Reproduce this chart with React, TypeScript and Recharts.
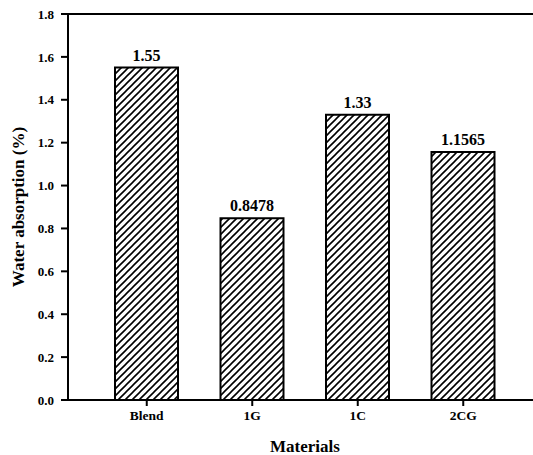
import React from "react";
import { BarChart, Bar, XAxis, YAxis, LabelList, ReferenceLine } from "recharts";

const categories = ["Blend", "1G", "1C", "2CG"];
const waterAbsorption = [1.55, 0.8478, 1.33, 1.1565];
const valueLabels = ["1.55", "0.8478", "1.33", "1.1565"];
const yTicks = [0, 0.2, 0.4, 0.6, 0.8, 1.0, 1.2, 1.4, 1.6, 1.8];

const data = categories.map((c, i) => ({ name: c, value: waterAbsorption[i], label: valueLabels[i] }));

const FONT = "'Liberation Serif', 'Times New Roman', serif";

export default function App() {
  return (
    <div style={{ position: "fixed", left: 0, top: 0, width: 533, height: 455, overflow: "hidden", background: "#fff" }}>
      <BarChart
        width={546}
        height={455}
        data={data}
        margin={{ top: 14, right: 4, bottom: 0, left: 0 }}
        style={{ fontFamily: FONT }}
      >
        <defs>
          <pattern id="hatch" patternUnits="userSpaceOnUse" width="7" height="7">
            <rect width="7" height="7" fill="#fff" />
            <path d="M-1,1 l2,-2 M0,7 l7,-7 M6,8 l2,-2" stroke="#000" strokeWidth="1.6" />
          </pattern>
        </defs>
        <XAxis
          dataKey="name"
          padding={{ left: 26, right: 26 }}
          height={55}
          tickSize={6}
          tickMargin={4}
          axisLine={{ stroke: "#000", strokeWidth: 2 }}
          tickLine={{ stroke: "#000", strokeWidth: 2 }}
          tick={{ fill: "#000", fontSize: 13.5, fontWeight: "bold", fontFamily: FONT }}
          label={{ value: "Materials", position: "insideBottom", offset: 3, fill: "#000", fontSize: 17, fontWeight: "bold", fontFamily: FONT }}
        />
        <YAxis
          domain={[0, 1.8]}
          ticks={yTicks}
          width={68}
          tickSize={7}
          tickMargin={7}
          interval={0}
          tickFormatter={(v: number) => v.toFixed(1)}
          axisLine={{ stroke: "#000", strokeWidth: 2 }}
          tickLine={{ stroke: "#000", strokeWidth: 2 }}
          tick={{ fill: "#000", fontSize: 13, fontWeight: "bold", fontFamily: FONT }}
          label={{ value: "Water absorption (%)", angle: -90, position: "insideLeft", offset: 18, fill: "#000", fontSize: 17, fontWeight: "bold", fontFamily: FONT, style: { textAnchor: "middle" } }}
        />
        <ReferenceLine y={1.8} stroke="#000" strokeWidth={2} />
        <Bar dataKey="value" fill="url(#hatch)" stroke="#000" strokeWidth={2} barSize={63} isAnimationActive={false}>
          <LabelList dataKey="label" position="top" offset={7} fill="#000" fontSize={16} fontWeight="bold" fontFamily={FONT} />
        </Bar>
      </BarChart>
    </div>
  );
}
